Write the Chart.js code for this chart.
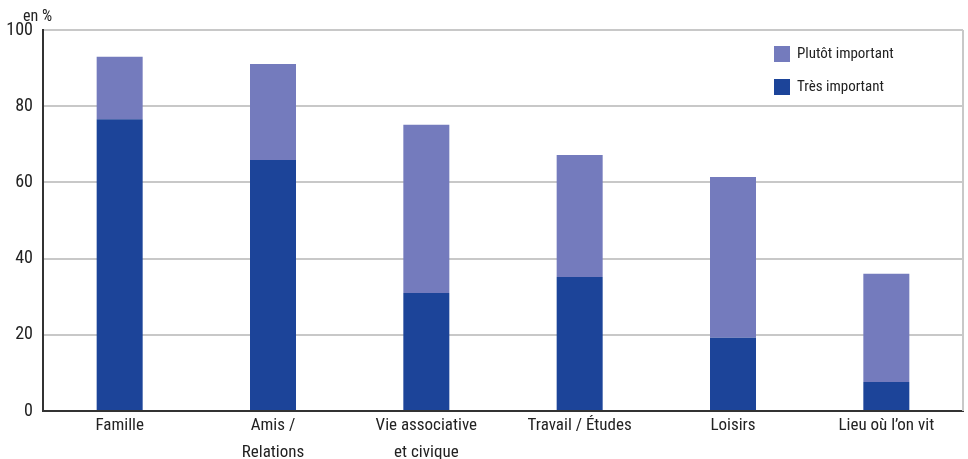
<!DOCTYPE html>
<html><head><meta charset="utf-8">
<script src="https://cdn.jsdelivr.net/npm/chart.js@4/dist/chart.umd.min.js"></script>
<style>html,body{margin:0;padding:0;background:#fff;}#wrap{width:968px;height:459px;position:relative;}</style>
</head><body><div id="wrap"><canvas id="c" width="968" height="459"></canvas></div>
<script>
const categories = [["Famille"], ["Amis /", "Relations"], ["Vie associative", "et civique"], ["Travail / Études"], ["Loisirs"], ["Lieu où l’on vit"]];
const tresImportant = [76.6, 65.9, 31, 35.2, 19.2, 7.6];
const plutotImportant = [16.4, 25.2, 44.1, 32, 42.2, 28.4];
const yTicks = [0, 20, 40, 60, 80, 100];

const FONT = "'Liberation Sans Narrow', 'Roboto Condensed', 'DejaVu Sans Condensed', 'Liberation Sans', sans-serif";
const DARK = '#1C4499', LIGHT = '#747BBD';

const extras = {
  id: 'extras',
  afterDraw(chart) {
    const ctx = chart.ctx, a = chart.chartArea;
    ctx.save();
    ctx.strokeStyle = '#C8C8C8'; ctx.lineWidth = 2;
    ctx.beginPath(); ctx.moveTo(a.right, a.top); ctx.lineTo(a.right, a.bottom); ctx.stroke();
    ctx.fillStyle = '#222'; ctx.font = '16px ' + FONT; ctx.textBaseline = 'middle'; ctx.textAlign = 'left';
    ctx.fillText('en %', 23, 17);
    const items = [[LIGHT, 'Plutôt important', 54], [DARK, 'Très important', 87]];
    ctx.font = '15px ' + FONT;
    items.forEach(([col, txt, y]) => {
      ctx.fillStyle = col; ctx.fillRect(774, y - 8, 16, 16);
      ctx.fillStyle = '#222'; ctx.fillText(txt, 797, y);
    });
    ctx.restore();
  }
};

new Chart(document.getElementById('c'), {
  type: 'bar',
  data: {
    labels: categories,
    datasets: [
      { label: 'Très important', data: tresImportant, backgroundColor: DARK, barPercentage: 1, categoryPercentage: 0.3 },
      { label: 'Plutôt important', data: plutotImportant, backgroundColor: LIGHT, barPercentage: 1, categoryPercentage: 0.3 }
    ]
  },
  options: {
    responsive: false, animation: false,
    layout: { padding: { top: 30, right: 5, left: 0, bottom: 0 } },
    plugins: { legend: { display: false }, tooltip: { enabled: false } },
    scales: {
      x: {
        stacked: true,
        grid: { display: false, drawTicks: false },
        border: { display: true, color: '#333', width: 2 },
        ticks: { color: '#222', font: { family: FONT, size: 17, lineHeight: 1.55 }, padding: 2, maxRotation: 0, autoSkip: false },
        afterFit(axis) { axis.height = 48; }
      },
      y: {
        stacked: true, min: 0, max: 100,
        afterBuildTicks(axis) { axis.ticks = yTicks.map(v => ({ value: v })); },
        grid: { color: '#C8C8C8', lineWidth: 2, drawTicks: false },
        border: { display: true, color: '#333', width: 2 },
        ticks: { color: '#222', font: { family: FONT, size: 18 }, padding: 10 },
        afterFit(axis) { axis.width = 43; }
      }
    }
  },
  plugins: [extras]
});
</script></body></html>
